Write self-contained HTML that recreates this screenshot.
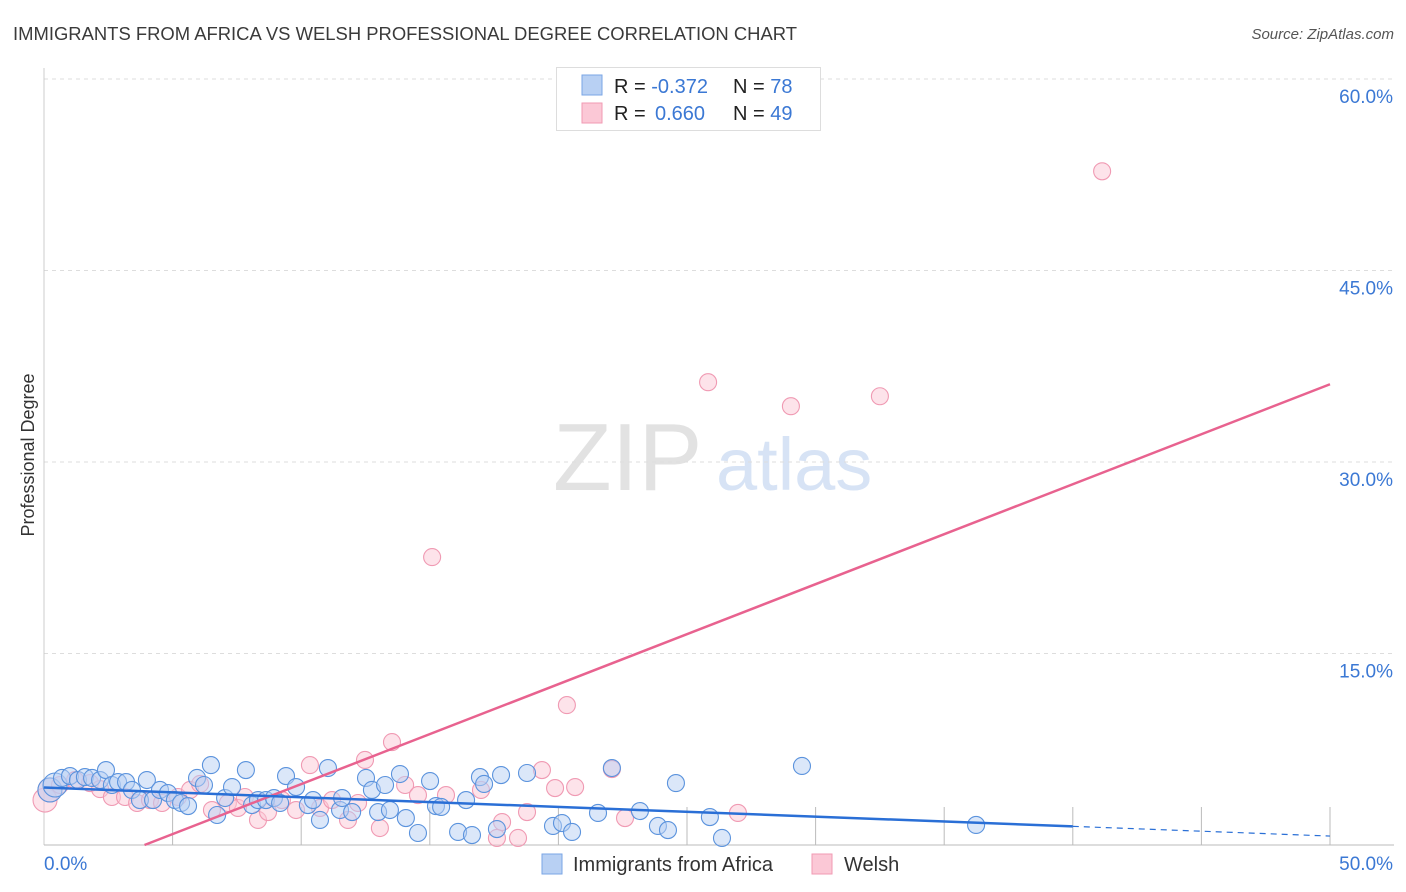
<!DOCTYPE html>
<html><head><meta charset="utf-8">
<style>
body{margin:0;background:#fff;font-family:"Liberation Sans",sans-serif;}
#wrap{position:relative;width:1406px;height:892px;overflow:hidden;}
svg text{font-family:"Liberation Sans",sans-serif;}
</style></head>
<body>
<div id="wrap">
<svg id="chart" width="1406" height="892">
  <text x="13" y="40" font-size="18" fill="#3a3a3a" textLength="784" lengthAdjust="spacingAndGlyphs">IMMIGRANTS FROM AFRICA VS WELSH PROFESSIONAL DEGREE CORRELATION CHART</text>
  <text x="1394" y="39" font-size="15" font-style="italic" fill="#555" text-anchor="end">Source: ZipAtlas.com</text>
  <text x="0" y="0" font-size="18" fill="#333" text-anchor="middle" transform="translate(34,455) rotate(-90)">Professional Degree</text>
  <g>
    <text x="553" y="490" font-family="Liberation Serif" font-size="96" fill="#d8d8d8" fill-opacity="0.75">ZIP</text>
    <text x="716" y="490" font-size="74" fill="#c9daf2" fill-opacity="0.75">atlas</text>
  </g>
  <g id="grid"></g>
  <g id="axes"></g>
  <g id="points"></g>
  <g id="lines"></g>
  <g>
    <rect x="556.5" y="67.5" width="264" height="63" fill="#fff" stroke="#ddd"/>
    <rect x="582" y="75" width="20" height="20" fill="#b8d0f3" stroke="#7aa6e6"/>
    <rect x="582" y="103" width="20" height="20" fill="#fbc8d6" stroke="#f09ab3"/>
    <text x="614" y="93" font-size="20" fill="#222">R = <tspan fill="#3b78d4">-0.372</tspan></text>
    <text x="733" y="93" font-size="20" fill="#222">N = <tspan fill="#3b78d4">78</tspan></text>
    <text x="614" y="120" font-size="20" fill="#222">R = </text>
    <text x="655" y="120" font-size="20" fill="#3b78d4">0.660</text>
    <text x="733" y="120" font-size="20" fill="#222">N = <tspan fill="#3b78d4">49</tspan></text>
  </g>
  <g>
    <rect x="542" y="854" width="20" height="20" fill="#b8d0f3" stroke="#7aa6e6"/>
    <text x="573" y="871" font-size="20" fill="#333">Immigrants from Africa</text>
    <rect x="812" y="854" width="20" height="20" fill="#fbc8d6" stroke="#f09ab3"/>
    <text x="844" y="871" font-size="20" fill="#333">Welsh</text>
  </g>
</svg>
</div>
<script>
const yTicks=[15,30,45,60];
const yTickLabels=["15.0%","30.0%","45.0%","60.0%"];
const xTickLabels=["0.0%","50.0%"];
const africaX=[0.23,0.43,0.70,1.01,1.32,1.59,1.87,2.18,2.41,2.64,2.88,3.19,3.42,3.73,4.00,4.24,4.51,4.82,5.09,5.33,5.60,5.95,6.22,6.49,6.73,7.04,7.31,7.85,8.09,8.32,8.63,8.94,9.18,9.41,9.80,10.26,10.46,10.73,11.04,11.51,11.59,11.98,12.52,12.75,12.99,13.26,13.45,13.84,14.07,14.54,15.01,15.24,15.44,16.10,16.41,16.64,16.95,17.11,17.61,17.77,18.78,19.79,20.14,20.53,21.54,22.08,23.17,23.87,24.26,24.57,25.89,26.36,29.47,36.24];
const africaY=[4.31,4.70,5.25,5.40,5.09,5.32,5.25,5.09,5.87,4.70,4.93,4.93,4.31,3.52,5.09,3.52,4.31,4.07,3.52,3.29,3.05,5.25,4.70,6.26,2.35,3.68,4.54,5.87,3.13,3.52,3.52,3.68,3.29,5.40,4.54,3.13,3.52,1.96,6.03,2.74,3.68,2.58,5.25,4.31,2.58,4.70,2.74,5.56,2.11,0.94,5.01,3.05,2.98,1.02,3.52,0.78,5.32,4.78,1.25,5.48,5.64,1.49,1.72,1.02,2.51,6.03,2.66,1.49,1.17,4.85,2.19,0.55,6.19,1.57];
const welshX=[0.04,0.23,0.62,1.21,1.79,2.18,2.64,3.15,3.62,4.12,4.59,5.21,5.68,6.07,6.53,7.15,7.54,7.81,8.32,8.71,9.25,9.80,10.34,10.73,11.20,11.82,12.21,12.48,13.06,13.53,14.04,14.54,15.09,15.63,16.99,17.61,17.81,18.43,18.78,19.36,19.87,20.33,20.65,22.08,22.59,25.82,26.98,29.04,32.50,41.14];
const welshY=[3.52,4.31,4.70,5.09,4.85,4.38,3.76,3.76,3.29,3.52,3.29,3.76,4.31,4.78,2.74,3.29,2.90,3.76,1.96,2.58,3.52,2.74,6.26,2.90,3.52,1.96,3.29,6.66,1.33,8.06,4.70,3.91,22.55,3.91,4.31,0.55,1.80,0.55,2.58,5.87,4.46,10.96,4.54,5.95,2.11,36.25,2.51,34.37,35.15,52.77];
const africaTrend=[4.5,-0.076];
const welshTrend=[-3.06,0.783];

const NS="http://www.w3.org/2000/svg";
const X0=44,X1=1330,Y0=845,PX=(X1-X0)/50,PY=191.5/15;
const sx=v=>X0+v*PX, sy=v=>Y0-v*PY;
function mk(tag,attrs,parent){const e=document.createElementNS(NS,tag);for(const k in attrs)e.setAttribute(k,attrs[k]);parent.appendChild(e);return e;}
const grid=document.getElementById('grid'),axes=document.getElementById('axes'),pts=document.getElementById('points'),lines=document.getElementById('lines');
yTicks.forEach((t,i)=>{
  const l=mk('line',{x1:X0,x2:1394,y1:sy(t),y2:sy(t),stroke:'#ddd','stroke-dasharray':'4,4'},grid);
  
  
  const tx=mk('text',{x:1393,y:sy(t)+24,'font-size':19,fill:'#3b78d4','text-anchor':'end'},axes);
  tx.textContent=yTickLabels[i];
  
  
});
const ax=mk('line',{x1:X0,x2:X0,y1:68,y2:Y0,stroke:'#ccc'},axes);


const bx=mk('line',{x1:X0,x2:X1+64,y1:Y0,y2:Y0,stroke:'#bbb'},axes);


for(let i=1;i<=10;i++){
  const tk=mk('line',{x1:sx(i*5),x2:sx(i*5),y1:Y0-38,y2:Y0,stroke:'#bbb'},axes);
  
  
}
const xl0=mk('text',{x:44,y:870,'font-size':19,fill:'#3b78d4'},axes);xl0.textContent=xTickLabels[0];


const xl1=mk('text',{x:1393,y:870,'font-size':19,fill:'#3b78d4','text-anchor':'end'},axes);xl1.textContent=xTickLabels[1];



function dots(xs,ys,fill,stroke,name){
  xs.forEach((x,i)=>{
    const r=(x<0.5)?12:8.5;
    const c=mk('circle',{cx:sx(x),cy:sy(ys[i]),r:r,fill:fill,'fill-opacity':0.5,stroke:stroke,'stroke-width':1.1},pts);
    
    
  });
}
dots(welshX,welshY,'#fbc8d6','#f09ab3','welsh-point');
dots(africaX,africaY,'#b8d0f3','#5b93dd','africa-point');

const wx0=(0-welshTrend[0])/welshTrend[1];
const wl=mk('line',{x1:sx(wx0),y1:sy(0),x2:sx(50),y2:sy(welshTrend[0]+welshTrend[1]*50),stroke:'#e8628f','stroke-width':2.5},lines);


const al=mk('line',{x1:sx(0),y1:sy(africaTrend[0]),x2:sx(40),y2:sy(africaTrend[0]+africaTrend[1]*40),stroke:'#2a6fd6','stroke-width':2.5},lines);


const ad=mk('line',{x1:sx(40),y1:sy(africaTrend[0]+africaTrend[1]*40),x2:sx(50),y2:sy(africaTrend[0]+africaTrend[1]*50),stroke:'#2a6fd6','stroke-width':1.2,'stroke-dasharray':'6,5'},lines);


</script>
</body></html>
